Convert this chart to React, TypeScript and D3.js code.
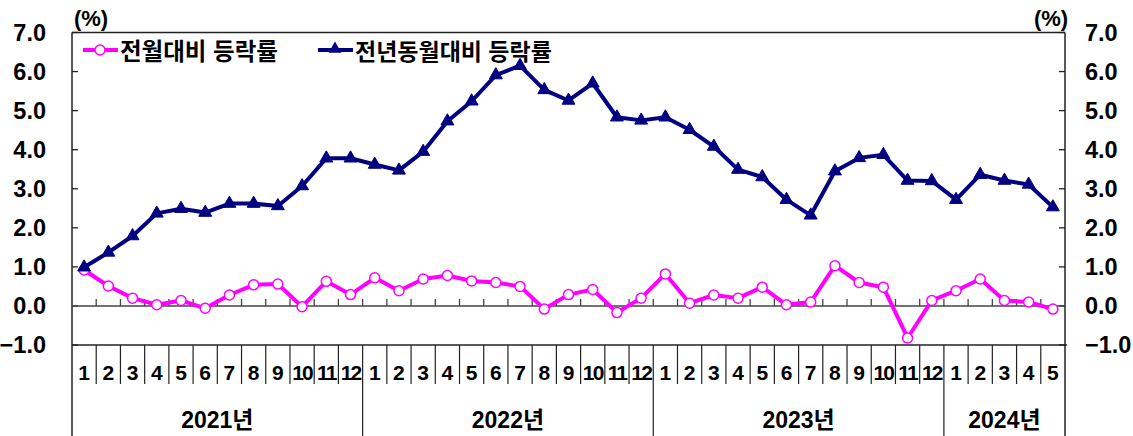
import * as d3 from "d3"

// months 2021.1 ~ 2024.5
const monthLabels = [
    "1", "2", "3", "4", "5", "6", "7", "8", "9", "10", "11", "12",
    "1", "2", "3", "4", "5", "6", "7", "8", "9", "10", "11", "12",
    "1", "2", "3", "4", "5", "6", "7", "8", "9", "10", "11", "12",
    "1", "2", "3", "4", "5",
]
const yearLabels = ["2021년", "2022년", "2023년", "2024년"]
const yearCounts = [12, 12, 12, 5]

// 전월대비 등락률
const momValues = [
    0.92, 0.51, 0.2, 0.03, 0.14, -0.06, 0.28, 0.54, 0.56, -0.02, 0.63, 0.29,
    0.72, 0.39, 0.69, 0.78, 0.64, 0.6, 0.5, -0.08, 0.29, 0.42, -0.17, 0.2,
    0.82, 0.07, 0.28, 0.2, 0.48, 0.03, 0.1, 1.03, 0.6, 0.48, -0.82, 0.14,
    0.39, 0.69, 0.14, 0.1, -0.08,
]
// 전년동월대비 등락률
const yoyValues = [
    0.99, 1.37, 1.79, 2.37, 2.49, 2.39, 2.62, 2.62, 2.56, 3.07, 3.78, 3.78,
    3.62, 3.47, 3.95, 4.73, 5.24, 5.91, 6.15, 5.53, 5.26, 5.7, 4.83, 4.75,
    4.83, 4.51, 4.08, 3.49, 3.3, 2.72, 2.32, 3.45, 3.79, 3.87, 3.21, 3.2,
    2.72, 3.36, 3.21, 3.11, 2.53,
]
const yTicks = [-1, 0, 1, 2, 3, 4, 5, 6, 7]

const W = 1133
const H = 436
const left = 72
const right = 1065
const top = 32.5
const bottom = 345
const FONT = "'Liberation Sans', Arial, 'Noto Sans CJK KR', sans-serif"
const NAVY = "#000080"
const MAGENTA = "#FF00FF"
const AXIS = "#222"

export default function App() {
    const idx = monthLabels.map((_, i) => i)
    const x = d3.scaleBand<number>().domain(idx).range([left, right])
    const bw = x.bandwidth()
    const cx = (i: number) => x(i)! + bw / 2
    const y = d3.scaleLinear().domain([-1, 7]).range([bottom, top])

    const line = d3.line<number>().x((_, i) => cx(i)).y((d) => y(d))
    const tri = d3.symbol().type(d3.symbolTriangle).size(72)()!

    // year boundaries
    const yearStarts: number[] = []
    yearCounts.reduce((acc, c) => {
        yearStarts.push(acc)
        return acc + c
    }, 0)

    return (
        <svg width={W} height={H} style={{ position: "absolute", left: 0, top: 0, display: "block" }} fontFamily={FONT}>
            <rect width={W} height={H} fill="#fff" />

            {/* unit labels */}
            <text x={91} y={18} textAnchor="middle" dominantBaseline="central" fontSize={22} fontWeight="bold">(%)</text>
            <text x={1051} y={18} textAnchor="middle" dominantBaseline="central" fontSize={22} fontWeight="bold">(%)</text>

            {/* y tick labels + ticks */}
            {yTicks.map((t) => (
                <g key={t}>
                    <text x={46} y={y(t)} textAnchor="end" dominantBaseline="central" fontSize={23.5} fontWeight="bold">
                        {d3.format(".1f")(t)}
                    </text>
                    <text x={1085} y={y(t)} textAnchor="start" dominantBaseline="central" fontSize={23.5} fontWeight="bold">
                        {d3.format(".1f")(t)}
                    </text>
                    <line x1={left} x2={left + 6} y1={y(t)} y2={y(t)} stroke={AXIS} strokeWidth={1.3} />
                    <line x1={right - 6} x2={right} y1={y(t)} y2={y(t)} stroke={AXIS} strokeWidth={1.3} />
                </g>
            ))}

            {/* frame */}
            <line x1={left} x2={right} y1={top} y2={top} stroke={AXIS} strokeWidth={1.5} />
            <line x1={left} x2={right + 2} y1={bottom} y2={bottom} stroke={AXIS} strokeWidth={1.5} />
            <line x1={left} x2={left} y1={top} y2={H} stroke={AXIS} strokeWidth={1.5} />
            <line x1={right} x2={right} y1={top} y2={H} stroke={AXIS} strokeWidth={1.5} />

            {/* zero axis with ticks */}
            <line x1={left} x2={right} y1={y(0)} y2={y(0)} stroke="#444" strokeWidth={1.5} />
            {idx.slice(1).map((i) => (
                <line key={i} x1={x(i)!} x2={x(i)!} y1={y(0) - 7} y2={y(0)} stroke="#444" strokeWidth={1.3} />
            ))}

            {/* category table */}
            {idx.slice(1).map((i) => {
                const full = yearStarts.includes(i)
                return (
                    <line key={"s" + i} x1={x(i)!} x2={x(i)!} y1={bottom} y2={full ? H : 384}
                        stroke={AXIS} strokeWidth={1.2} />
                )
            })}
            {monthLabels.map((m, i) => (
                <text key={"m" + i} x={cx(i)} y={372} textAnchor="middle" dominantBaseline="central"
                    fontSize={21} fontWeight="bold" letterSpacing={m.length > 1 ? -1.8 : 0}>
                    {m}
                </text>
            ))}
            {yearLabels.map((yl, k) => {
                const s = yearStarts[k]
                const e = s + yearCounts[k]
                const mid = (x(s)! + (e >= idx.length ? right : x(e)!)) / 2
                return (
                    <text key={yl} x={mid} y={420} textAnchor="middle" dominantBaseline="central" fontSize={23} fontWeight="bold">
                        {yl}
                    </text>
                )
            })}

            {/* MoM series */}
            <path d={line(momValues)!} fill="none" stroke={MAGENTA} strokeWidth={4} strokeLinejoin="round" />
            {momValues.map((v, i) => (
                <circle key={"c" + i} cx={cx(i)} cy={y(v)} r={5} fill="#fff" stroke={MAGENTA} strokeWidth={1.5} />
            ))}

            {/* YoY series */}
            <path d={line(yoyValues)!} fill="none" stroke={NAVY} strokeWidth={4} strokeLinejoin="round" />
            {yoyValues.map((v, i) => (
                <path key={"t" + i} d={tri} transform={`translate(${cx(i)},${y(v)})`} fill={NAVY} stroke={NAVY} strokeWidth={1} />
            ))}

            {/* legend */}
            <line x1={83} x2={118} y1={50} y2={50} stroke={MAGENTA} strokeWidth={4} />
            <circle cx={100} cy={50} r={5} fill="#fff" stroke={MAGENTA} strokeWidth={1.5} />
            <text x={120} y={52} dominantBaseline="central" fontSize={23.5} fontWeight="bold">전월대비 등락률</text>
            <line x1={318} x2={353} y1={50} y2={50} stroke={NAVY} strokeWidth={4} />
            <path d={tri} transform="translate(335,49)" fill={NAVY} />
            <text x={355} y={52} dominantBaseline="central" fontSize={23} fontWeight="bold">전년동월대비 등락률</text>
        </svg>
    )
}
